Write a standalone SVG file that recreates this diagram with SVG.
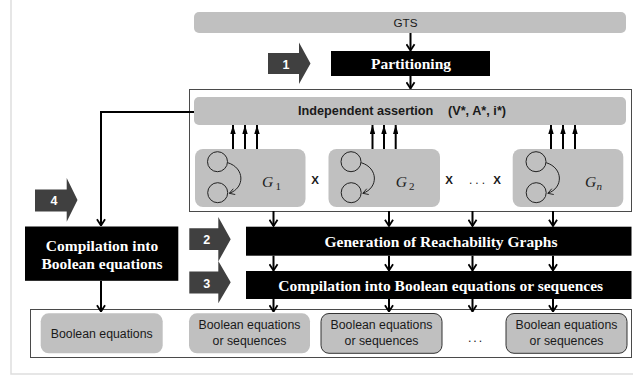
<svg xmlns="http://www.w3.org/2000/svg" width="633" height="378" viewBox="0 0 633 378">
<defs>
<style>
.bg{fill:#ffffff}
.gray{fill:#c0c0c0}
.blk{fill:#000000}
.blockarrow{fill:#404040}
.frame{fill:none;stroke:#4a4a4a;stroke-width:1}
.bordered{fill:#c0c0c0;stroke:#333333;stroke-width:1}
.conn{fill:none;stroke:#000000;stroke-width:2}
.circ{fill:none;stroke:#222222;stroke-width:1}
.sans{font-family:"Liberation Sans",Arial,sans-serif;fill:#1a1a1a}
.bserif{font-family:"Liberation Serif","Times New Roman",serif;font-weight:bold;fill:#ffffff;font-size:15.5px}
.num{font-family:"Liberation Sans",Arial,sans-serif;font-weight:bold;fill:#ffffff;font-size:12.5px}
.glab{font-family:"Liberation Serif","Times New Roman",serif;font-style:italic;font-size:15.5px;fill:#222}
.gsub{font-family:"Liberation Serif","Times New Roman",serif;font-size:11px;fill:#222}
.btxt{font-family:"Liberation Sans",Arial,sans-serif;font-size:12.3px;fill:#1a1a1a}
</style>
<marker id="chev" viewBox="0 0 10 10" refX="9" refY="5" markerWidth="9" markerHeight="10" markerUnits="userSpaceOnUse" orient="auto">
<path d="M2,0.5 L9,5 L2,9.5" fill="none" stroke="#000" stroke-width="2"/>
</marker>
<marker id="tri" viewBox="0 0 10 6" refX="10" refY="3" markerWidth="9" markerHeight="5.4" markerUnits="userSpaceOnUse" orient="auto">
<path d="M0,0 L10,3 L0,6 z" fill="#000"/>
</marker>
<marker id="small" viewBox="0 0 8 8" refX="7" refY="4" markerWidth="7" markerHeight="7" markerUnits="userSpaceOnUse" orient="auto">
<path d="M1,0.5 L7,4 L1,7.5" fill="none" stroke="#222" stroke-width="1"/>
</marker>
</defs>

<rect class="bg" x="0" y="0" width="633" height="378"/>
<!-- outer light frame -->
<path d="M11,0 L11,374 L633,374" fill="none" stroke="#dedede" stroke-width="1.5"/>

<!-- frames -->
<rect id="upper-frame" class="frame" x="189.5" y="89.5" width="442" height="122"/>
<rect id="lower-frame" class="frame" x="30.5" y="309.5" width="601" height="48"/>

<!-- nodes -->
<g id="gts">
<rect class="gray" x="194" y="12" width="432" height="21" rx="5"/>
<text class="sans" x="405.5" y="26.5" font-size="11.7" text-anchor="middle">GTS</text>
</g>

<g id="step1">
<polygon class="blockarrow" points="268,53 299,53 299,42.5 310.5,63.5 299,84 299,74 268,74"/>
<text class="num" x="286" y="68.5" text-anchor="middle">1</text>
</g>

<g id="partitioning">
<rect class="blk" x="331" y="51" width="159" height="25"/>
<text class="bserif" x="411" y="69" text-anchor="middle">Partitioning</text>
</g>

<g id="independent-assertion">
<rect class="gray" x="194" y="97" width="432" height="28" rx="5"/>
<text class="sans" x="298" y="115" font-size="12.7" font-weight="bold">Independent assertion</text>
<text class="sans" x="448" y="115" font-size="12.7" font-weight="bold">(V*, A*, i*)</text>
</g>

<g id="G1">
<rect class="gray" x="195" y="149" width="110.5" height="58" rx="8"/>
<circle class="circ" cx="217.5" cy="161.7" r="10"/>
<circle class="circ" cx="217.7" cy="192.7" r="10"/>
<path class="circ" d="M227.7,162.7 C245,168 245,188 229.3,193.3" marker-end="url(#small)"/>
<text class="glab" x="262" y="187.3">G</text>
<text class="gsub" x="275.5" y="190">1</text>
</g>

<g id="G2">
<rect class="gray" x="328.5" y="149" width="111.5" height="58" rx="8"/>
<circle class="circ" cx="351" cy="161.7" r="10"/>
<circle class="circ" cx="351.2" cy="192.7" r="10"/>
<path class="circ" d="M361.2,162.7 C378.5,168 378.5,188 362.8,193.3" marker-end="url(#small)"/>
<text class="glab" x="395.7" y="187.3">G</text>
<text class="gsub" x="409" y="190">2</text>
</g>

<g id="Gn">
<rect class="gray" x="512.7" y="149" width="110.6" height="58" rx="8"/>
<circle class="circ" cx="536" cy="161.7" r="10"/>
<circle class="circ" cx="536.2" cy="192.7" r="10"/>
<path class="circ" d="M546.2,162.7 C563.5,168 563.5,188 547.8,193.3" marker-end="url(#small)"/>
<text class="glab" x="585" y="187.3">G</text>
<text class="gsub" x="596.5" y="190" font-style="italic">n</text>
</g>

<g id="product-signs">
<text class="sans" x="315" y="184" font-size="11.5" font-weight="bold" text-anchor="middle">X</text>
<text class="sans" x="449" y="184" font-size="11.5" font-weight="bold" text-anchor="middle">X</text>
<text class="sans" x="478.5" y="184" font-size="12" letter-spacing="3" text-anchor="middle">...</text>
<text class="sans" x="497" y="184" font-size="11.5" font-weight="bold" text-anchor="middle">X</text>
</g>

<g id="step4">
<polygon class="blockarrow" points="35,189.5 66.7,189.5 66.7,178 77.5,200 66.7,221.7 66.7,211.5 35,211.5"/>
<text class="num" x="54" y="205" text-anchor="middle">4</text>
</g>

<g id="compilation-boolean">
<rect class="blk" x="25" y="226.5" width="153.3" height="54.3"/>
<text class="bserif" x="102" y="250.5" text-anchor="middle">Compilation into</text>
<text class="bserif" x="102" y="269" text-anchor="middle">Boolean equations</text>
</g>

<g id="step2">
<polygon class="blockarrow" points="189.3,228.3 218.3,228.3 218.3,217 230.7,239.2 218.3,261.5 218.3,250 189.3,250"/>
<text class="num" x="206.7" y="244" text-anchor="middle">2</text>
</g>

<g id="generation">
<rect class="blk" x="246" y="226.7" width="385.5" height="29"/>
<text class="bserif" x="441" y="246.5" text-anchor="middle">Generation of Reachability Graphs</text>
</g>

<g id="step3">
<polygon class="blockarrow" points="189.3,271.5 218.3,271.5 218.3,261 230.7,282.2 218.3,303.3 218.3,293.5 189.3,293.5"/>
<text class="num" x="206.7" y="287.5" text-anchor="middle">3</text>
</g>

<g id="compilation-sequences">
<rect class="blk" x="246" y="271" width="385.5" height="28"/>
<text class="bserif" x="440.7" y="290.5" text-anchor="middle">Compilation into Boolean equations or sequences</text>
</g>

<g id="out-boolean">
<rect class="gray" x="40.7" y="313.3" width="122" height="40" rx="8"/>
<text class="btxt" x="101.7" y="337.7" text-anchor="middle">Boolean equations</text>
</g>

<g id="out-seq1">
<rect class="gray" x="189" y="313.3" width="121" height="40" rx="8"/>
<text class="btxt" x="249.5" y="329.3" text-anchor="middle">Boolean equations</text>
<text class="btxt" x="249.5" y="345" text-anchor="middle">or sequences</text>
</g>

<g id="out-seq2">
<rect class="bordered" x="321" y="313.5" width="121" height="39.8" rx="8"/>
<text class="btxt" x="381.5" y="329.3" text-anchor="middle">Boolean equations</text>
<text class="btxt" x="381.5" y="345" text-anchor="middle">or sequences</text>
</g>

<text class="btxt" x="476" y="342" letter-spacing="2" text-anchor="middle">...</text>

<g id="out-seqn">
<rect class="bordered" x="506" y="313.5" width="121" height="39.8" rx="8"/>
<text class="btxt" x="566.5" y="329.3" text-anchor="middle">Boolean equations</text>
<text class="btxt" x="566.5" y="345" text-anchor="middle">or sequences</text>
</g>

<!-- connectors -->
<g id="connectors">
<path class="conn" d="M410.5,33 L410.5,50.5" marker-end="url(#chev)"/>
<path class="conn" d="M410.5,76 L410.5,88.5" marker-end="url(#chev)"/>
<path class="conn" d="M194,112 L101,112 L101,225.5" marker-end="url(#chev)"/>
<path class="conn" d="M101,281 L101,311.5" marker-end="url(#chev)"/>

<path class="conn" d="M233,149 L233,125" marker-end="url(#tri)"/>
<path class="conn" d="M245,149 L245,125" marker-end="url(#tri)"/>
<path class="conn" d="M257,149 L257,125" marker-end="url(#tri)"/>
<path class="conn" d="M372.5,149 L372.5,125" marker-end="url(#tri)"/>
<path class="conn" d="M384,149 L384,125" marker-end="url(#tri)"/>
<path class="conn" d="M395.7,149 L395.7,125" marker-end="url(#tri)"/>
<path class="conn" d="M551,149 L551,125" marker-end="url(#tri)"/>
<path class="conn" d="M563,149 L563,125" marker-end="url(#tri)"/>
<path class="conn" d="M575,149 L575,125" marker-end="url(#tri)"/>

<path class="conn" d="M273.5,211 L273.5,226" marker-end="url(#chev)"/>
<path class="conn" d="M389,211 L389,226" marker-end="url(#chev)"/>
<path class="conn" d="M472.5,211 L472.5,226" marker-end="url(#chev)"/>
<path class="conn" d="M553,211 L553,226" marker-end="url(#chev)"/>

<path class="conn" d="M273.5,255.7 L273.5,270.5" marker-end="url(#chev)"/>
<path class="conn" d="M389,255.7 L389,270.5" marker-end="url(#chev)"/>
<path class="conn" d="M472.5,255.7 L472.5,270.5" marker-end="url(#chev)"/>
<path class="conn" d="M553,255.7 L553,270.5" marker-end="url(#chev)"/>

<path class="conn" d="M273.5,299 L273.5,311.5" marker-end="url(#chev)"/>
<path class="conn" d="M389,299 L389,311.5" marker-end="url(#chev)"/>
<path class="conn" d="M472.5,299 L472.5,311.5" marker-end="url(#chev)"/>
<path class="conn" d="M553,299 L553,311.5" marker-end="url(#chev)"/>
</g>
</svg>
